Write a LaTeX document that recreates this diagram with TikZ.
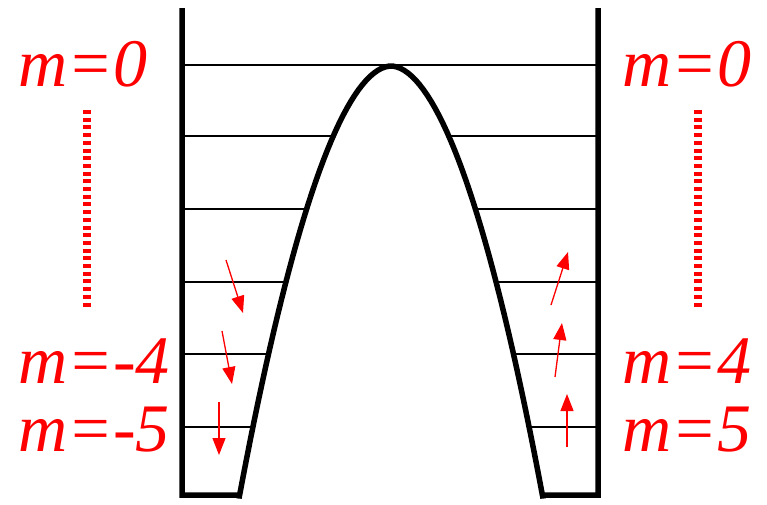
\documentclass[tikz,border=0pt]{standalone}
\usepackage{fontspec}
\newfontfamily\labelfont{Liberation Serif}
\usetikzlibrary{arrows.meta}
\definecolor{levelred}{RGB}{255,0,0}

\begin{document}
\begin{tikzpicture}[
        x=1pt, y=-1pt,
        wall/.style={line width=5.5pt, line join=miter},
        level/.style={line width=2.2pt},
        mlabel/.style={text=levelred, font=\labelfont\fontsize{68}{68}\selectfont\itshape, inner sep=0pt, anchor=base west},
        dots/.style={draw=levelred, line width=7.5pt, dash pattern=on 4pt off 3.7pt},
        flow/.style={-{Triangle[length=17pt,width=13pt]}, draw=levelred, fill=levelred, line width=1.3pt}
    ]
        \useasboundingbox (0,0) rectangle (767,504);
        % levels
        \draw[level] (182,65) -- (598,65);
        \foreach \yy/\xl/\xr in {136/333/449, 209/306/476, 282/285/497, 354/268/514, 427/251/530} {
            \draw[level] (182,\yy) -- (\xl,\yy);
            \draw[level] (\xr,\yy) -- (598,\yy);
        }
        % walls and barrier
        \draw[wall] (182,8) -- (182,495) -- (239,495)
            -- plot[domain=-152:152, samples=80] ({391+\x}, {66+0.0342*abs(\x)^1.88})
            -- (543,495) -- (598,495) -- (598,8);
        % labels
        \node[mlabel] (l0) at (18,86) {m=0};
        \node[mlabel] (l4) at (18,383) {m=-4};
        \node[mlabel] (l5) at (18,451) {m=-5};
        \node[mlabel] (r0) at (622,86) {m=0};
        \node[mlabel] (r4) at (622,383) {m=4};
        \node[mlabel] (r5) at (622,451) {m=5};
        \coordinate (ldtop) at (87,110);
        \coordinate (ldbot) at (87,308);
        \coordinate (rdtop) at (698,110);
        \coordinate (rdbot) at (698,308);
        \draw[dots] (ldtop) -- (ldbot);
        \draw[dots] (rdtop) -- (rdbot);
        % arrows
        \coordinate (la1) at (226,260); \coordinate (lb1) at (243,313);
        \coordinate (la2) at (222,331); \coordinate (lb2) at (232,384);
        \coordinate (la3) at (219,402); \coordinate (lb3) at (219,455);
        \coordinate (ra1) at (551,305); \coordinate (rb1) at (568,252);
        \coordinate (ra2) at (555,377); \coordinate (rb2) at (562,323);
        \coordinate (ra3) at (567,447); \coordinate (rb3) at (567,394);
        \foreach \i in {1,2,3} {
            \draw[flow] (la\i) -- (lb\i);
            \draw[flow] (ra\i) -- (rb\i);
        }
    \end{tikzpicture}
\end{document}
